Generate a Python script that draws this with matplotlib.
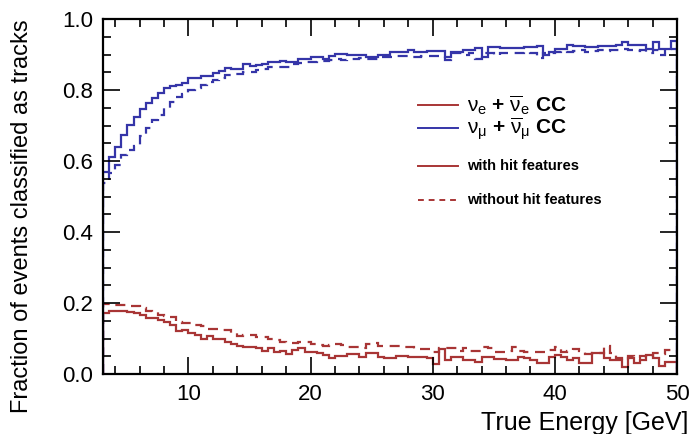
import numpy as np
import matplotlib.pyplot as plt
from matplotlib.ticker import MultipleLocator

plt.rcParams['font.family'] = ['Liberation Sans', 'DejaVu Sans']
plt.rcParams['mathtext.fontset'] = 'custom'
plt.rcParams['mathtext.rm'] = 'Liberation Sans'
plt.rcParams['mathtext.it'] = 'Liberation Sans'
plt.rcParams['mathtext.bf'] = 'Liberation Sans:bold'

# bin edges: 0.5 GeV bins from 3 to 50 GeV
edges = np.arange(3.0, 50.01, 0.5)

# nu_mu CC, with hit features (solid blue)
numu_with = [
    0.569, 0.611, 0.640, 0.673, 0.701, 0.724, 0.746, 0.764, 0.777, 0.792,
    0.805, 0.811, 0.814, 0.820, 0.833, 0.833, 0.839, 0.839, 0.849, 0.854,
    0.863, 0.860, 0.860, 0.873, 0.868, 0.870, 0.873, 0.879, 0.879, 0.882,
    0.880, 0.880, 0.887, 0.887, 0.892, 0.892, 0.887, 0.897, 0.902, 0.902,
    0.899, 0.899, 0.900, 0.894, 0.894, 0.899, 0.900, 0.908, 0.908, 0.908,
    0.912, 0.908, 0.908, 0.910, 0.910, 0.910, 0.894, 0.908, 0.908, 0.913,
    0.913, 0.919, 0.894, 0.922, 0.922, 0.919, 0.917, 0.917, 0.917, 0.922,
    0.922, 0.925, 0.899, 0.908, 0.915, 0.915, 0.927, 0.924, 0.924, 0.922,
    0.922, 0.925, 0.925, 0.925, 0.928, 0.934, 0.927, 0.927, 0.928, 0.915,
    0.936, 0.915, 0.915, 0.938,
]

# nu_mu CC, without hit features (dashed blue)
numu_without = [
    0.538, 0.566, 0.589, 0.617, 0.632, 0.642, 0.670, 0.693, 0.715, 0.730,
    0.749, 0.766, 0.780, 0.790, 0.800, 0.806, 0.814, 0.823, 0.828, 0.834,
    0.842, 0.845, 0.845, 0.850, 0.852, 0.856, 0.860, 0.865, 0.865, 0.866,
    0.866, 0.872, 0.876, 0.878, 0.880, 0.882, 0.882, 0.884, 0.887, 0.884,
    0.886, 0.886, 0.889, 0.888, 0.886, 0.892, 0.894, 0.894, 0.897, 0.895,
    0.894, 0.894, 0.897, 0.895, 0.897, 0.897, 0.885, 0.903, 0.903, 0.900,
    0.903, 0.888, 0.905, 0.903, 0.900, 0.903, 0.903, 0.905, 0.903, 0.906,
    0.903, 0.890, 0.903, 0.905, 0.908, 0.910, 0.908, 0.910, 0.912, 0.908,
    0.910, 0.912, 0.910, 0.913, 0.912, 0.915, 0.912, 0.910, 0.912, 0.905,
    0.913, 0.898, 0.913, 0.915,
]

# nu_e CC, with hit features (solid red)
nue_with = [
    0.173, 0.177, 0.177, 0.177, 0.176, 0.173, 0.166, 0.157, 0.157, 0.152,
    0.146, 0.138, 0.121, 0.124, 0.116, 0.110, 0.098, 0.107, 0.098, 0.098,
    0.091, 0.085, 0.079, 0.077, 0.077, 0.072, 0.066, 0.072, 0.061, 0.066,
    0.056, 0.069, 0.072, 0.061, 0.061, 0.058, 0.054, 0.044, 0.051, 0.051,
    0.056, 0.056, 0.049, 0.059, 0.059, 0.047, 0.045, 0.045, 0.051, 0.051,
    0.049, 0.049, 0.047, 0.045, 0.027, 0.070, 0.039, 0.047, 0.047, 0.039,
    0.039, 0.035, 0.049, 0.049, 0.042, 0.042, 0.039, 0.039, 0.049, 0.044,
    0.039, 0.030, 0.030, 0.049, 0.054, 0.049, 0.039, 0.044, 0.030, 0.030,
    0.059, 0.059, 0.044, 0.039, 0.039, 0.021, 0.044, 0.030, 0.039, 0.054,
    0.044, 0.024, 0.035, 0.035,
]

# nu_e CC, without hit features (dashed red)
nue_without = [
    0.197, 0.197, 0.194, 0.194, 0.192, 0.192, 0.187, 0.178, 0.175, 0.166,
    0.163, 0.160, 0.147, 0.143, 0.143, 0.138, 0.135, 0.128, 0.126, 0.124,
    0.124, 0.116, 0.107, 0.110, 0.110, 0.105, 0.103, 0.098, 0.095, 0.091,
    0.088, 0.088, 0.091, 0.091, 0.085, 0.082, 0.080, 0.082, 0.085, 0.082,
    0.077, 0.077, 0.072, 0.085, 0.086, 0.079, 0.079, 0.080, 0.080, 0.075,
    0.075, 0.070, 0.070, 0.070, 0.061, 0.072, 0.072, 0.072, 0.066, 0.072,
    0.066, 0.066, 0.075, 0.072, 0.061, 0.063, 0.065, 0.075, 0.066, 0.061,
    0.061, 0.062, 0.062, 0.068, 0.075, 0.061, 0.066, 0.070, 0.066, 0.055,
    0.060, 0.060, 0.079, 0.058, 0.045, 0.040, 0.050, 0.045, 0.050, 0.048,
    0.060, 0.055, 0.068, 0.068,
]

blue = '#3535a8'
red = '#a83535'
dash = (0, (4.5, 3))

fig = plt.figure(figsize=(6.89, 4.34), dpi=100)
ax = fig.add_axes([0.1495, 0.1382, 0.8331, 0.818])

ax.stairs(nue_without, edges, baseline=0, color=red, lw=1.6, linestyle=dash)
ax.stairs(nue_with, edges, baseline=0, color=red, lw=1.6)
ax.stairs(numu_without, edges, baseline=0, color=blue, lw=1.6, linestyle=dash)
ax.stairs(numu_with, edges, baseline=0, color=blue, lw=1.6)

ax.set_xlim(3, 50)
ax.set_ylim(0, 1)
ax.xaxis.set_major_locator(MultipleLocator(10))
ax.xaxis.set_minor_locator(MultipleLocator(2))
ax.yaxis.set_major_locator(MultipleLocator(0.2))
ax.yaxis.set_minor_locator(MultipleLocator(0.05))
ax.yaxis.set_major_formatter(plt.FuncFormatter(lambda v, p: f'{v:.1f}'))
ax.tick_params(which='both', direction='in', top=True, right=True,
               labelsize=16, width=1.2, color='black')
ax.tick_params(which='major', length=12, pad=7)
ax.tick_params(which='minor', length=6)
for s in ax.spines.values():
    s.set_linewidth(1.6)

ax.set_xlabel('True Energy [GeV]', fontsize=18, loc='right')
ax.xaxis.set_label_coords(1.019, -0.105)
ax.set_ylabel('Fraction of events classified as tracks', fontsize=17, loc='top')
ax.yaxis.set_label_coords(-0.122, 1.0)

# legend
tr = ax.transAxes
def leg_line(y, color, ls):
    ax.plot([0.549, 0.618], [y, y], transform=tr, color=color, lw=1.4,
            linestyle=ls, clip_on=False)

leg_line(0.758, red, '-')
ax.text(0.634, 0.758, r'$\nu_{e}$ + $\overline{\nu}_{e}$ CC', transform=tr,
        fontsize=15, fontweight='bold', va='center')
leg_line(0.693, blue, '-')
ax.text(0.634, 0.690, r'$\nu_{\mu}$ + $\overline{\nu}_{\mu}$ CC', transform=tr,
        fontsize=15, fontweight='bold', va='center')
leg_line(0.586, red, '-')
ax.text(0.634, 0.586, 'with hit features', transform=tr,
        fontsize=10.5, fontweight='bold', va='center')
leg_line(0.490, red, (0, (3, 2.5)))
ax.text(0.634, 0.490, 'without hit features', transform=tr,
        fontsize=10.5, fontweight='bold', va='center')

fig.savefig('out.png', dpi=100)
